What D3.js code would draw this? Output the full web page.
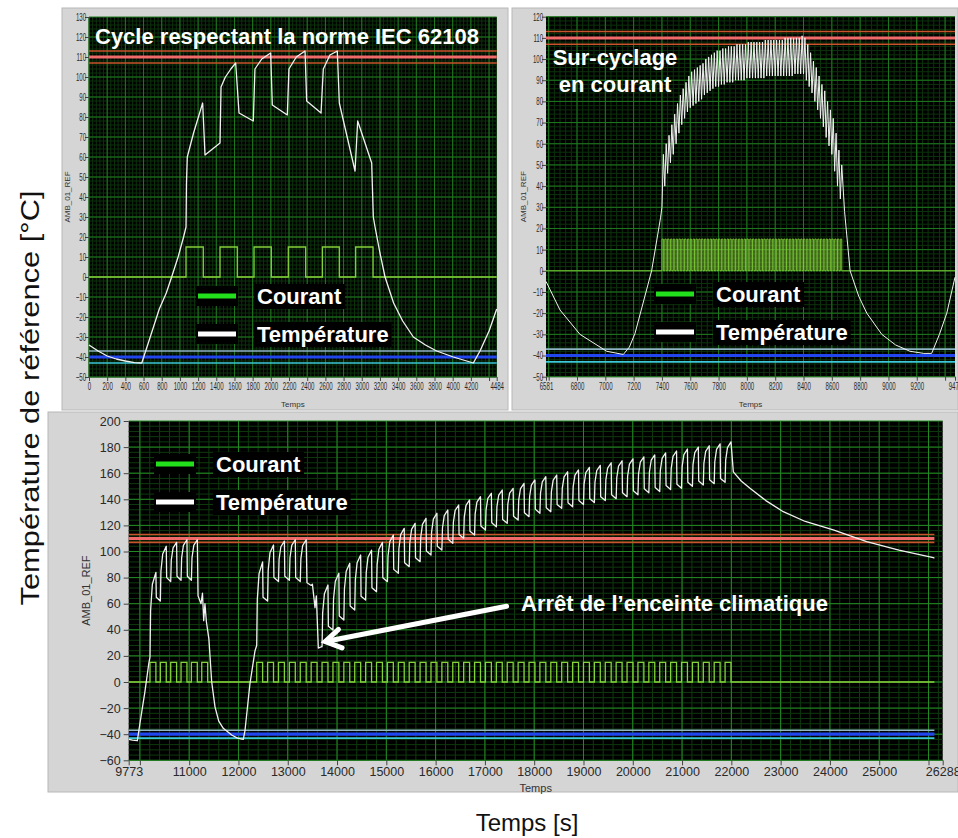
<!DOCTYPE html>
<html>
<head>
<meta charset="utf-8">
<script src="https://cdn.jsdelivr.net/npm/d3@7"></script>
<style>
  body { margin: 0; background: #fff; }
  svg { display: block; }
</style>
</head>
<body>
<svg id="chart" width="958" height="838"></svg>
<script>
// ---------- data ----------
// limit lines (°C)
const hotLimits = [107, 110, 113];
const coldLimits = [-37, -40, -43];
const currentLevel = 15;

// panel 1 : cycle IEC 62108
const p1Temp = [[0,-34],[100,-37],[200,-39.5],[300,-41],[400,-42],[500,-42.8],[580,-43],
  [652,-33],[773,-16],[850,-8],[909,0],[980,10],[1040,20],[1067,25],[1072,47],[1081,60],
  [1150,72],[1250,87],[1276,61],[1441,67],[1452,95],[1500,100],[1560,104],[1613,107],
  [1650,82],[1807,78],[1825,104],[1900,109],[1998,112],[2016,86],[2181,81],[2199,104],
  [2280,110],[2376,113],[2394,88],[2552,82],[2577,104],[2650,111],[2731,113],[2753,87],
  [2926,53],[2955,78],[3109,57],[3127,30],[3146,25],[3200,12],[3256,0],[3350,-13],
  [3450,-22],[3567,-30],[3700,-34],[3824,-37],[4007,-40],[4227,-43],[4300,-37],[4400,-27],[4484,-16]];
const p1Pulses = [[1067,1257],[1441,1631],[1815,2005],[2192,2383],[2567,2753],[2933,3124]];

// panel 2 : sur-cyclage en courant
const p2Before = [[6581,-5],[6680,-18.5],[6821,-30],[7010,-38],[7127,-39.5],[7170,-36],
  [7210,-29.5],[7327,0],[7390,25]];
const p2On = [7400,7420,7440,7460,7480,7500,7520,7540,7560,7580,7600,7620,7640,7660,7680,7700,
  7720,7740,7760,7780,7800,7820,7840,7860,7880,7900,7920,7940,7960,7980,8000,8020,8040,8060,
  8080,8100,8120,8140,8160,8180,8200,8220,8240,8260,8280,8300,8320,8340,8360,8380,8400,8420,
  8440,8460,8480,8500,8520,8540,8560,8580,8600,8620,8640,8660];
const p2Peaks = [55,60,64,69,74,79,83,86,89,92,94,95,96,97,98,100,101,102,103,104,104,105,105,106,
  106,106,107,107,107,107,108,108,108,108,108,108,109,109,109,109,109,109,109,110,110,110,110,110,
  110,111,110,107,103,99,96,92,88,85,80,76,72,65,57,50];
const p2Troughs = [30,40,46,51,55,60,65,69,72,75,77,78,79,80,81,83,84,85,86,87,87,88,88,89,89,89,
  90,90,90,90,91,91,91,91,91,91,91,92,92,92,92,92,92,92,92,92,92,93,93,93,93,90,87,84,80,76,72,
  68,63,59,55,47,40,34];
const p2After = [[8690,28],[8729,0],[8790,-12],[8847,-20],[8953,-30],[9050,-35],[9152,-38],
  [9250,-39],[9305,-39],[9360,-30],[9412,-20],[9470,-3]];
const p2PulseWidth = 10;

// panel 3 : long test, chamber stop
const p3Start = [[9773,-44],[9850,-44.5],[9948,-45],[10000,-32],[10100,-8],[10180,14]];
const p3OnA = [10205,10415,10625,10835,11045,11255];
const p3TroughA = [19,62,77,78,78,null];
const p3PeakA = [84,104,107,109,109,null];
const p3Mid = [[11180,66],[11240,60],[11270,68],[11295,47],[11320,60],[11350,46],[11400,33],
  [11457,0],[11524,-19],[11600,-30],[11692,-35.5],[11862,-40.6],[11980,-43],[12098,-44],
  [12133,-37],[12234,-1],[12336,24]];
const p3OnB = [12370,12591,12812,13033,13254,13475,13696,13917,14138,14359,14580,14801,15022,
  15243,15464,15685,15906,16127,16348,16569,16790,17011,17232,17453,17674,17895,18116,18337,
  18558,18779,19000,19221,19442,19663,19884,20105,20326,20547,20768,20989,21210,21431,21652,21873];
const p3TroughB = [28,62,77,78,77,null,27,39.8,47.5,55.2,62.8,69.2,76.9,83.3,88.4,92.2,97.3,101.1,
  106.3,110.1,112.6,116.5,119,121.6,124.1,126.7,129.3,130.5,133.1,134.3,136,137.5,139,140.5,142,
  143.5,145,146,147.5,148.5,150,151,152,153];
const p3PeakB = [92,105,108,109,109,null,74.3,83.3,91,97.3,101,107,112.6,117.7,121.6,125.4,129.3,
  131.8,135.6,139.5,142,144.6,147.1,148.4,152.2,154.8,157.3,158.6,161.1,162.5,164.5,166,168,169.5,
  171,172.5,174,175.5,177,178.5,180,181,182.5,184];
const p3Stop = [[13390,76],[13475,74],[13500,75],[13553,57],[13580,66],[13620,26],[13680,27]];
const p3End = [[22040,161],[22200,154],[22378,148.4],[22700,139],[23053,130.5],[23500,123],
  [24068,116.5],[24746,107.5],[25400,101],[26097,95.3],[26120,95]];
const p3PulseWidth = 120;
const p3LastT = 26120;

// tick labels
const p1XTicks = d3.range(0, 4401, 200).concat([4484]);
const p2XTicks = [6581].concat(d3.range(6600, 9401, 200)).concat([9470]);
const p3XTicks = [9773].concat(d3.range(10000, 26001, 1000)).concat([26288]);
const hiddenLabels = [4400, 6600, 9400, 10000, 26000];

// ---------- drawing ----------
const svg = d3.select('#chart');
const green = '#86d23a', white = '#f2f2f2';
const boldFont = 'Liberation Sans, Arial, sans-serif';

function cycleShape(on, off, tr, pk, nextTr) {
  let d = pk - tr, w = off - on;
  let pts = [[on, tr], [on + 0.1 * w, tr + 0.55 * d], [on + 0.4 * w, tr + 0.86 * d], [off, pk]];
  if (nextTr != null) pts.push([off + 8, nextTr + 3]);
  return pts;
}

function pulseLine(t0, t1, pulses) {
  let pts = [[t0, 0]];
  pulses.forEach(p => { pts.push([p[0], 0], [p[0], currentLevel], [p[1], currentLevel], [p[1], 0]); });
  pts.push([t1, 0]);
  return pts;
}

function panel(opt) {
  let g = svg.append('g');
  g.append('rect').attr('x', opt.frame[0]).attr('y', opt.frame[1])
    .attr('width', opt.frame[2]).attr('height', opt.frame[3])
    .attr('fill', '#d5d5d5').attr('stroke', '#b8b8b8');
  let x = d3.scaleLinear().domain(opt.xDom).range([opt.plot[0], opt.plot[1]]);
  let y = d3.scaleLinear().domain(opt.yDom).range([opt.plot[3], opt.plot[2]]);
  g.append('rect').attr('x', opt.plot[0]).attr('y', opt.plot[2])
    .attr('width', opt.plot[1] - opt.plot[0]).attr('height', opt.plot[3] - opt.plot[2])
    .attr('fill', '#000');

  // grid
  let grid = g.append('g');
  let minX = d3.range(opt.xGrid[0], opt.xDom[1], opt.xGrid[2]);
  let majX = d3.range(opt.xGrid[0], opt.xDom[1], opt.xGrid[1]);
  let minY = d3.range(opt.yDom[0], opt.yDom[1], opt.yGrid[1]);
  let majY = d3.range(opt.yDom[0], opt.yDom[1] + 0.1, opt.yGrid[0]);
  grid.selectAll('.vmin').data(minX).enter().append('line')
    .attr('x1', d => x(d)).attr('x2', d => x(d)).attr('y1', opt.plot[2]).attr('y2', opt.plot[3])
    .attr('stroke', opt.minorCol).attr('stroke-width', 1);
  grid.selectAll('.hmin').data(minY).enter().append('line')
    .attr('y1', d => y(d)).attr('y2', d => y(d)).attr('x1', opt.plot[0]).attr('x2', opt.plot[1])
    .attr('stroke', opt.minorCol).attr('stroke-width', 1);
  grid.selectAll('.vmaj').data(majX).enter().append('line')
    .attr('x1', d => x(d)).attr('x2', d => x(d)).attr('y1', opt.plot[2]).attr('y2', opt.plot[3])
    .attr('stroke', opt.majorCol).attr('stroke-width', 1);
  grid.selectAll('.hmaj').data(majY).enter().append('line')
    .attr('y1', d => y(d)).attr('y2', d => y(d)).attr('x1', opt.plot[0]).attr('x2', opt.plot[1])
    .attr('stroke', opt.majorCol).attr('stroke-width', 1);

  // limit lines
  let limEnd = opt.limEnd != null ? x(opt.limEnd) : opt.plot[1];
  let limStyle = [
    [hotLimits[0], '#c8542c', 1.6], [hotLimits[2], '#c8542c', 1.6], [hotLimits[1], '#f06a6a', 3],
    [coldLimits[0], '#8fb4c4', 1.6], [coldLimits[2], '#3cc8d8', 1.6], [coldLimits[1], '#2246ee', 3.2]
  ];
  g.selectAll('.lim').data(limStyle).enter().append('line')
    .attr('x1', opt.plot[0]).attr('x2', limEnd)
    .attr('y1', d => y(d[0])).attr('y2', d => y(d[0]))
    .attr('stroke', d => d[1]).attr('stroke-width', d => d[2]);

  let line = d3.line().x(d => x(d[0])).y(d => y(d[1]));
  g.append('path').datum(opt.current).attr('d', line)
    .attr('fill', 'none').attr('stroke', green).attr('stroke-width', opt.cw || 1.3);
  g.append('path').datum(opt.temp).attr('d', line)
    .attr('fill', 'none').attr('stroke', white).attr('stroke-width', opt.tw || 1.3)
    .attr('stroke-linejoin', 'round');

  // axes
  let fmt = d => hiddenLabels.indexOf(d) >= 0 ? '' : d;
  let ax = g.append('g').attr('transform', `translate(0,${opt.plot[3]})`)
    .call(d3.axisBottom(x).tickValues(opt.xTicks).tickFormat(fmt).tickSize(opt.tickLen).tickPadding(2));
  let ay = g.append('g').attr('transform', `translate(${opt.plot[0]},0)`)
    .call(d3.axisLeft(y).tickValues(majY).tickSize(opt.tickLen).tickPadding(opt.squeeze < 1 ? 1 : 3));
  [ax, ay].forEach(a => {
    a.select('.domain').remove();
    a.selectAll('line').attr('stroke', '#444');
    a.selectAll('text').attr('fill', '#2a2a2a').style('font-family', opt.tickFont)
      .style('font-size', opt.tickSize + 'px');
    if (opt.squeeze < 1) a.selectAll('text').attr('transform', `scale(${opt.squeeze},1)`);
  });
  g.append('text').attr('x', (opt.plot[0] + opt.plot[1]) / 2).attr('y', opt.xLabelY)
    .attr('text-anchor', 'middle').attr('fill', '#333')
    .style('font-family', opt.tickFont).style('font-size', opt.lblSize + 'px').text('Temps');
  g.append('text').attr('transform', `translate(${opt.yLabelX},${(opt.plot[2] + opt.plot[3]) / 2}) rotate(-90)`)
    .attr('text-anchor', 'middle').attr('fill', '#333')
    .style('font-family', opt.tickFont).style('font-size', opt.lblSize + 'px').text('AMB_01_REF');

  // legend (pasted on the plot in the original)
  opt.legend.forEach((lg, i) => {
    let yy = lg.y;
    g.append('rect').attr('x', lg.x - 2).attr('y', yy - 10).attr('width', 42).attr('height', 20).attr('fill', '#000');
    g.append('line').attr('x1', lg.x).attr('x2', lg.x + 38).attr('y1', yy).attr('y2', yy)
      .attr('stroke', i === 0 ? '#22e01c' : '#ffffff').attr('stroke-width', 5);
    let t = g.append('text').attr('x', lg.tx).attr('y', yy + 8).attr('fill', '#fff')
      .style('font-family', boldFont).style('font-weight', 'bold')
      .style('font-size', '22px').text(i === 0 ? 'Courant' : 'Température');
    let bb = t.node().getBBox();
    g.insert('rect', () => t.node()).attr('x', bb.x - 3).attr('y', bb.y).attr('width', bb.width + 6)
      .attr('height', bb.height).attr('fill', '#000');
  });
  return {x: x, y: y, g: g};
}

// panel 1
panel({
  frame: [62, 8, 446, 402], plot: [89, 496.7, 17, 377],
  xDom: [0, 4484], yDom: [-50, 130], xGrid: [0, 200, 40], yGrid: [10, 2],
  minorCol: '#0c330c', majorCol: '#1f7a1f',
  xTicks: p1XTicks, temp: p1Temp, current: pulseLine(0, 4484, p1Pulses),
  tickLen: 4, tickFont: 'Liberation Sans, Arial, sans-serif', tickSize: 10.5, squeeze: 0.58, lblSize: 8,
  xLabelY: 407, yLabelX: 70,
  legend: [{x: 198, y: 296, tx: 257}, {x: 198, y: 334, tx: 257}]
});

// panel 2
let p2Temp = p2Before.slice();
p2On.forEach((t, i) => { p2Temp.push([t, p2Troughs[i]], [t + p2PulseWidth, p2Peaks[i]]); });
p2Temp = p2Temp.concat(p2After);
panel({
  frame: [512, 8, 446, 402], plot: [546, 955, 16.7, 376.7],
  xDom: [6581, 9470], yDom: [-50, 120], xGrid: [6600, 200, 40], yGrid: [10, 2],
  minorCol: '#0c330c', majorCol: '#1f7a1f',
  xTicks: p2XTicks, temp: p2Temp, tw: 1, cw: 0.9,
  current: pulseLine(6581, 9470, p2On.map(t => [t, t + p2PulseWidth])),
  tickLen: 4, tickFont: 'Liberation Sans, Arial, sans-serif', tickSize: 10.5, squeeze: 0.58, lblSize: 8,
  xLabelY: 407, yLabelX: 526,
  legend: [{x: 656, y: 294, tx: 716}, {x: 656, y: 332, tx: 716}]
});

// panel 3
let p3Temp = p3Start.slice();
p3OnA.forEach((t, i) => {
  if (p3TroughA[i] == null) return;
  let nx = i + 1 < p3OnA.length ? p3TroughA[i + 1] : null;
  p3Temp = p3Temp.concat(cycleShape(t, t + p3PulseWidth, p3TroughA[i], p3PeakA[i], nx));
});
p3Temp = p3Temp.concat(p3Mid);
p3OnB.forEach((t, i) => {
  if (p3TroughB[i] == null) { p3Temp = p3Temp.concat(p3Stop); return; }
  let nx = i + 1 < p3OnB.length ? p3TroughB[i + 1] : null;
  p3Temp = p3Temp.concat(cycleShape(t, t + p3PulseWidth, p3TroughB[i], p3PeakB[i], nx));
});
p3Temp = p3Temp.concat(p3End);
let p3Pulses = p3OnA.concat(p3OnB).map(t => [t, t + p3PulseWidth]);
let P3 = panel({
  frame: [48, 412, 910, 380], plot: [128.7, 942.7, 421, 760.3],
  xDom: [9773, 26288], yDom: [-60, 200], xGrid: [10000, 1000, 200], yGrid: [20, 4],
  minorCol: '#0e3a0e', majorCol: '#238a23',
  xTicks: p3XTicks, temp: p3Temp, current: pulseLine(9773, p3LastT, p3Pulses), limEnd: p3LastT,
  tickLen: 5, tickFont: 'Liberation Sans, Arial, sans-serif', tickSize: 12.5, squeeze: 1, lblSize: 11,
  xLabelY: 792, yLabelX: 90,
  legend: [{x: 156, y: 464, tx: 216}, {x: 156, y: 502, tx: 216}]
});

// annotation with arrow (positions in data units)
let tip = [P3.x(13760), P3.y(31)], tail = [P3.x(17440), P3.y(58)];
let ang = Math.atan2(tail[1] - tip[1], tail[0] - tip[0]);
P3.g.append('line').attr('x1', tail[0]).attr('y1', tail[1]).attr('x2', tip[0] + 3 * Math.cos(ang)).attr('y2', tip[1] + 3 * Math.sin(ang))
  .attr('stroke', '#fff').attr('stroke-width', 5).attr('stroke-linecap', 'round');
let hl = 18, ha = 0.55;
P3.g.append('path')
  .attr('d', `M${tip[0] + hl * Math.cos(ang - ha)},${tip[1] + hl * Math.sin(ang - ha)}L${tip[0]},${tip[1]}L${tip[0] + hl * Math.cos(ang + ha)},${tip[1] + hl * Math.sin(ang + ha)}`)
  .attr('fill', 'none').attr('stroke', '#fff').attr('stroke-width', 5).attr('stroke-linecap', 'round').attr('stroke-linejoin', 'miter');
P3.g.append('text').attr('x', 521).attr('y', 611).attr('fill', '#fff')
  .style('font-family', boldFont).style('font-weight', 'bold').style('font-size', '22px')
  .text('Arrêt de l’enceinte climatique');

// in-plot titles
svg.append('text').attr('x', 95).attr('y', 44).attr('fill', '#fff')
  .style('font-family', boldFont).style('font-weight', 'bold').style('font-size', '22px')
  .text('Cycle respectant la norme IEC 62108');
svg.append('text').attr('x', 615).attr('y', 65).attr('text-anchor', 'middle').attr('fill', '#fff')
  .style('font-family', boldFont).style('font-weight', 'bold').style('font-size', '22px')
  .text('Sur-cyclage');
svg.append('text').attr('x', 615).attr('y', 92).attr('text-anchor', 'middle').attr('fill', '#fff')
  .style('font-family', boldFont).style('font-weight', 'bold').style('font-size', '22px')
  .text('en courant');

// figure axis titles
svg.append('text').attr('x', 527).attr('y', 831).attr('text-anchor', 'middle').attr('fill', '#111')
  .style('font-family', boldFont).style('font-size', '24px').text('Temps [s]');
svg.append('text').attr('transform', 'translate(39,398) rotate(-90)').attr('text-anchor', 'middle').attr('fill', '#111')
  .attr('textLength', 415).attr('lengthAdjust', 'spacingAndGlyphs')
  .style('font-family', boldFont).style('font-size', '26px')
  .text('Température de référence [°C]');
</script>
</body>
</html>
